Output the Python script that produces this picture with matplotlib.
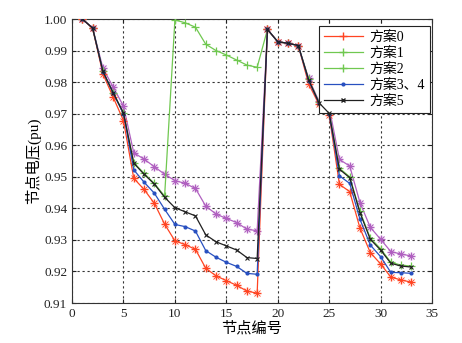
import matplotlib
matplotlib.use("Agg")
import matplotlib.pyplot as plt
from matplotlib.lines import Line2D
import numpy as np

nodes = list(range(1, 34))

plan0 = [1.0, 0.9970, 0.9826, 0.9752, 0.9678, 0.9495, 0.9460, 0.9416, 0.9350, 0.9297,
         0.9285, 0.9270, 0.9210, 0.9186, 0.9171, 0.9156, 0.9138, 0.9131,
         0.9967, 0.9928, 0.9923, 0.9916, 0.9795, 0.9730, 0.9696,
         0.9476, 0.9453, 0.9337, 0.9260, 0.9224, 0.9182, 0.9173, 0.9166]

plan1 = [1.0, 0.9971, 0.9834, 0.9766, 0.9701, 0.9545, 0.9511, 0.9479, 0.9439, 0.9997,
         0.9988, 0.9974, 0.9920, 0.9900, 0.9886, 0.9870, 0.9854, 0.9847,
         0.9967, 0.9928, 0.9923, 0.9916, 0.9809, 0.9736, 0.9703,
         0.9527, 0.9500, 0.9390, 0.9306, 0.9272, 0.9229, 0.9220, 0.9217]

plan2 = [1.0, 0.9972, 0.9844, 0.9784, 0.9724, 0.9576, 0.9556, 0.9532, 0.9508, 0.9488,
         0.9479, 0.9463, 0.9407, 0.9382, 0.9368, 0.9355, 0.9334, 0.9329,
         0.9967, 0.9928, 0.9923, 0.9916, 0.9812, 0.9740, 0.9720,
         0.9555, 0.9534, 0.9418, 0.9340, 0.9302, 0.9263, 0.9255, 0.9249]

plan34 = [1.0, 0.9971, 0.9833, 0.9765, 0.9700, 0.9522, 0.9483, 0.9448, 0.9397, 0.9349,
          0.9342, 0.9328, 0.9266, 0.9245, 0.9229, 0.9216, 0.9194, 0.9191,
          0.9967, 0.9928, 0.9923, 0.9916, 0.9805, 0.9734, 0.9700,
          0.9503, 0.9479, 0.9365, 0.9284, 0.9247, 0.9197, 0.9196, 0.9194]

plan5 = [1.0, 0.9971, 0.9834, 0.9766, 0.9702, 0.9543, 0.9508, 0.9477, 0.9435, 0.9402,
         0.9389, 0.9376, 0.9316, 0.9294, 0.9281, 0.9268, 0.9244, 0.9241,
         0.9967, 0.9928, 0.9923, 0.9916, 0.9808, 0.9735, 0.9701,
         0.9524, 0.9497, 0.9386, 0.9302, 0.9268, 0.9226, 0.9217, 0.9214]

labels = ["方案0", "方案1", "方案2", "方案3、4", "方案5"]

plt.rcParams['font.family'] = ['Liberation Serif', 'Noto Sans CJK SC']
plt.rcParams['axes.unicode_minus'] = False

fig = plt.figure(figsize=(4.62, 3.43), dpi=100)
ax = fig.add_axes([0.156, 0.1166, 0.779, 0.828])

c_red = '#ff4422'
c_green = '#70c850'
c_purple = '#b060c0'
c_blue = '#2850c0'
c_black = '#202020'

ax.plot(nodes, plan2, color=c_purple, lw=0.9, marker='+', ms=6, mew=1.0, zorder=3)
ax.plot(nodes, plan2, color=c_purple, lw=0, marker='x', ms=4, mew=0.8, zorder=3)
ax.plot(nodes, plan1, color=c_green, lw=0.9, marker='+', ms=6, mew=0.9, zorder=3)
ax.plot(nodes, plan0, color=c_red, lw=0.9, marker='+', ms=6, mew=1.0, zorder=4)
ax.plot(nodes, plan0, color=c_red, lw=0, marker='x', ms=4, mew=0.6, zorder=4)
ax.plot(nodes, plan34, color=c_blue, lw=0.9, marker='o', ms=3, mew=0, zorder=5)
ax.plot(nodes, plan5, color=c_black, lw=0.9, marker='x', ms=3.5, mew=0.8, zorder=6)

ax.set_xlim(0, 35)
ax.set_ylim(0.91, 1.00)
ax.set_xticks(np.arange(0, 36, 5))
ax.set_yticks(np.arange(0.91, 1.0001, 0.01))
ax.set_yticklabels([f"{v:.2f}" for v in np.arange(0.91, 1.0001, 0.01)])
ax.grid(True, color='#333333', linestyle=(0, (2, 2.5)), linewidth=0.8)
ax.tick_params(direction='in', top=True, right=True, labelsize=9.5, length=3,
               colors='#222222')
for s in ax.spines.values():
    s.set_color('#333333')
    s.set_linewidth(0.8)

ax.set_xlabel("节点编号", fontsize=11, labelpad=1)
ax.set_ylabel("节点电压(pu)", fontsize=11, labelpad=2)

handles = [
    Line2D([], [], color=c_red, marker='+', ms=6, lw=0.9),
    Line2D([], [], color=c_green, marker='+', ms=6, lw=0.9),
    Line2D([], [], color=c_green, marker='+', ms=6, lw=0.9),
    Line2D([], [], color=c_blue, marker='o', ms=3, lw=0.9, mew=0),
    Line2D([], [], color=c_black, marker='x', ms=3, lw=0.9),
]
leg = ax.legend(handles, labels, loc='upper right', bbox_to_anchor=(0.995, 0.975),
                fontsize=10, fancybox=False,
                framealpha=1, edgecolor='#222222', borderpad=0.35, labelspacing=0.2,
                handlelength=2.8, handletextpad=0.5, borderaxespad=0.0)
leg.get_frame().set_linewidth(0.8)

fig.savefig("out.png", dpi=100)
